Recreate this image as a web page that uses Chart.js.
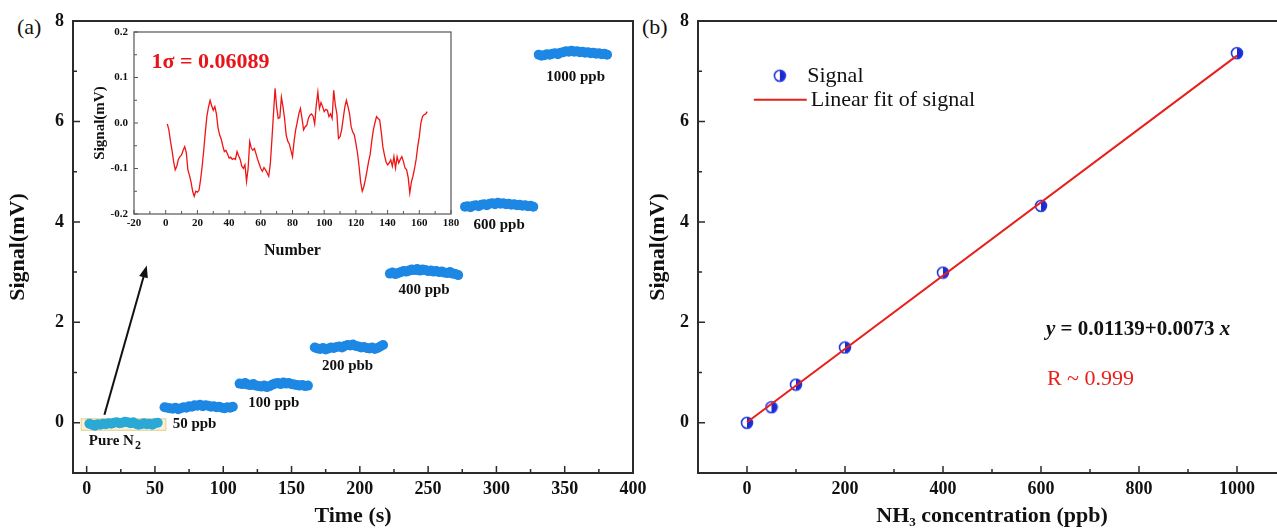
<!DOCTYPE html>
<html>
<head>
<meta charset="utf-8">
<script src="https://cdn.jsdelivr.net/npm/chart.js@4.4.1/dist/chart.umd.min.js"></script>
<style>
html, body { margin: 0; padding: 0; background: #fff; overflow: hidden; width: 1277px; height: 530px; }
canvas { position: absolute; }
.tag { position: absolute; font: 22px 'Liberation Serif', serif; color: #111; line-height: 1.15; }
</style>
</head>
<body>
<div class="tag" style="left:17px;top:14px">(a)</div>
<div class="tag" style="left:642px;top:14px">(b)</div>
<canvas id="stepChart" width="650" height="530" style="left:0;top:0"></canvas>
<canvas id="noiseChart" width="370" height="245" style="left:90px;top:20px"></canvas>
<canvas id="fitChart" width="660" height="530" style="left:640px;top:0"></canvas>
<script>
// ---- panel (a): step response ----
const timeTicks = [0, 50, 100, 150, 200, 250, 300, 350, 400];
const timeMinor = [25, 75, 125, 175, 225, 275, 325, 375];
const signalTicks = [0, 2, 4, 6, 8];
const signalMinor = [1, 3, 5, 7];

// each plateau: start time (s), samples every 2 s
const stepStarts = [2, 57, 112, 167, 222, 277, 331];
const stepOffsets = [0, 2, 4, 6, 8, 10, 12, 14, 16, 18, 20, 22, 24, 26, 28, 30, 32, 34, 36, 38, 40, 42, 44, 46, 48, 50];
const stepNames = ['Pure N', '50 ppb', '100 ppb', '200 pbb', '400 ppb', '600 ppb', '1000 ppb'];

const pureN2 = [-0.02, -0.04, -0.06, -0.03, -0.04, -0.02, -0.03, -0.01, -0.02, 0.00, 0.01, -0.01, 0.00, 0.02, 0.01, -0.01, 0.01, -0.02, -0.04, -0.03, -0.01, -0.03, -0.02, -0.04, -0.01, 0.00];
const ppb50 = [0.31, 0.30, 0.29, 0.28, 0.30, 0.27, 0.29, 0.31, 0.30, 0.33, 0.32, 0.35, 0.34, 0.36, 0.33, 0.35, 0.34, 0.32, 0.33, 0.31, 0.32, 0.30, 0.29, 0.31, 0.30, 0.32];
const ppb100 = [0.78, 0.77, 0.79, 0.76, 0.75, 0.77, 0.74, 0.73, 0.72, 0.74, 0.71, 0.73, 0.76, 0.78, 0.79, 0.77, 0.80, 0.78, 0.79, 0.77, 0.76, 0.75, 0.74, 0.75, 0.73, 0.74];
const ppb200 = [1.50, 1.48, 1.47, 1.49, 1.46, 1.48, 1.50, 1.49, 1.51, 1.52, 1.50, 1.53, 1.55, 1.54, 1.56, 1.53, 1.52, 1.50, 1.51, 1.49, 1.48, 1.50, 1.47, 1.49, 1.52, 1.55];
const ppb400 = [2.97, 2.99, 2.96, 2.98, 3.00, 3.02, 3.01, 3.03, 3.05, 3.04, 3.06, 3.03, 3.05, 3.04, 3.02, 3.03, 3.01, 3.02, 3.00, 3.01, 2.99, 2.98, 3.00, 2.97, 2.96, 2.94];
const ppb600 = [4.30, 4.31, 4.29, 4.32, 4.33, 4.31, 4.34, 4.35, 4.33, 4.36, 4.37, 4.35, 4.38, 4.36, 4.37, 4.35, 4.36, 4.34, 4.35, 4.33, 4.34, 4.32, 4.33, 4.31, 4.32, 4.30];
const ppb1000 = [7.33, 7.31, 7.32, 7.34, 7.33, 7.35, 7.36, 7.34, 7.37, 7.38, 7.40, 7.39, 7.41, 7.39, 7.40, 7.38, 7.39, 7.37, 7.38, 7.36, 7.37, 7.35, 7.36, 7.34, 7.35, 7.33];

// ---- inset: baseline noise ----
const numberTicks = [-20, 0, 20, 40, 60, 80, 100, 120, 140, 160, 180];
const numberMinor = [-10, 10, 30, 50, 70, 90, 110, 130, 150, 170];
const noiseTicks = [-0.2, -0.1, 0, 0.1, 0.2];
const noiseMinor = [-0.15, -0.05, 0.05, 0.15];
const noiseY = [
  -0.002, -0.015, -0.040, -0.060, -0.085, -0.103, -0.095, -0.080, -0.074, -0.070,
  -0.060, -0.052, -0.065, -0.103, -0.115, -0.130, -0.150, -0.161, -0.150, -0.152,
  -0.148, -0.125, -0.095, -0.060, -0.020, 0.015, 0.035, 0.050, 0.038, 0.028,
  0.036, 0.020, -0.010, -0.026, -0.035, -0.050, -0.063, -0.060, -0.068, -0.077,
  -0.075, -0.080, -0.078, -0.080, -0.063, -0.072, -0.080, -0.095, -0.100, -0.092,
  -0.128, -0.100, -0.041, -0.055, -0.060, -0.056, -0.068, -0.080, -0.090, -0.100,
  -0.106, -0.098, -0.103, -0.110, -0.117, -0.090, -0.037, 0.020, 0.076, 0.035,
  0.010, 0.012, 0.057, 0.036, 0.010, -0.026, -0.040, -0.046, -0.060, -0.074,
  -0.040, -0.015, 0.002, 0.020, 0.032, 0.010, -0.015, -0.008, -0.005, 0.010,
  0.017, 0.020, 0.015, -0.002, 0.040, 0.068, 0.032, 0.045, 0.036, 0.025,
  0.030, 0.028, 0.014, 0.020, 0.010, 0.072, 0.040, 0.020, -0.034, -0.030,
  -0.015, 0.010, 0.035, 0.050, 0.036, 0.020, -0.008, -0.020, -0.026, -0.045,
  -0.066, -0.095, -0.130, -0.150, -0.140, -0.124, -0.105, -0.085, -0.069, -0.040,
  -0.015, 0.000, 0.014, 0.010, 0.007, -0.020, -0.052, -0.070, -0.085, -0.092,
  -0.088, -0.081, -0.095, -0.074, -0.099, -0.074, -0.088, -0.080, -0.074, -0.085,
  -0.099, -0.103, -0.120, -0.154, -0.130, -0.117, -0.100, -0.080, -0.052, -0.030,
  0.000, 0.014, 0.018, 0.020, 0.025
];

// ---- panel (b): calibration ----
const concentration = [0, 50, 100, 200, 400, 600, 1000];
const signalMean = [0.00, 0.31, 0.76, 1.50, 2.99, 4.32, 7.36];
const fitX = [0, 1000];
const fitY = [0.011, 7.311];
const concTicks = [0, 200, 400, 600, 800, 1000];
const concMinor = [-100, 100, 300, 500, 700, 900];

const serif = "'Liberation Serif', 'Times New Roman', serif";
const ink = '#111';
Chart.defaults.font.family = serif;
Chart.defaults.color = ink;
Chart.defaults.animation = false;

// inward tick marks + full frame box
const frameTicks = {
  id: 'frameTicks',
  afterDatasetsDraw(chart, args, o) {
    const { ctx, chartArea: a, scales: { x, y } } = chart;
    ctx.save();
    ctx.strokeStyle = o.color;
    ctx.lineWidth = o.tickWidth;
    ctx.beginPath();
    x.ticks.forEach(t => { const p = x.getPixelForValue(t.value); ctx.moveTo(p, a.bottom); ctx.lineTo(p, a.bottom - o.major); });
    o.minorX.forEach(v => { const p = x.getPixelForValue(v); if (p > a.left && p < a.right) { ctx.moveTo(p, a.bottom); ctx.lineTo(p, a.bottom - o.minor); } });
    y.ticks.forEach(t => { const p = y.getPixelForValue(t.value); ctx.moveTo(a.left, p); ctx.lineTo(a.left + o.major, p); });
    o.minorY.forEach(v => { const p = y.getPixelForValue(v); ctx.moveTo(a.left, p); ctx.lineTo(a.left + o.minor, p); });
    ctx.stroke();
    ctx.lineWidth = o.width;
    ctx.strokeRect(a.left, a.top, a.right - a.left, a.bottom - a.top);
    ctx.restore();
  }
};

function axis(min, max, ticks, opts) {
  return Object.assign({
    type: 'linear', min: min, max: max,
    afterBuildTicks: s => { s.ticks = ticks.map(v => ({ value: v })); },
    grid: { display: false, drawTicks: false },
    border: { display: false }
  }, opts);
}

function text(ctx, str, x, y, font, color, align) {
  ctx.font = font;
  ctx.fillStyle = color || ink;
  ctx.textAlign = align || 'center';
  ctx.textBaseline = 'middle';
  ctx.fillText(str, x, y);
}

// ---------- panel (a) ----------
const stepSeries = [pureN2, ppb50, ppb100, ppb200, ppb400, ppb600, ppb1000];
const stepColors = ['#2aa9d6', '#1d87e4', '#1d87e4', '#1d87e4', '#1d87e4', '#1d87e4', '#1d87e4'];
const stepLabelPos = [[21, -0.40], [79, -0.02], [137, 0.40], [191, 1.12], [247, 2.65], [302, 3.94], [358, 6.89]];

const stepNotes = {
  id: 'stepNotes',
  beforeDatasetsDraw(chart) {
    const { ctx, scales: { x, y } } = chart;
    const x0 = x.getPixelForValue(-4), x1 = x.getPixelForValue(58);
    const y0 = y.getPixelForValue(0.08), y1 = y.getPixelForValue(-0.15);
    ctx.save();
    ctx.fillStyle = '#fbf1d2';
    ctx.strokeStyle = '#e2cf92';
    ctx.lineWidth = 1;
    ctx.fillRect(x0, y0, x1 - x0, y1 - y0);
    ctx.strokeRect(x0, y0, x1 - x0, y1 - y0);
    ctx.restore();
  },
  afterDraw(chart) {
    const { ctx, scales: { x, y } } = chart;
    ctx.save();
    const f = 'bold 15px ' + serif;
    stepNames.forEach((n, i) => {
      const px = x.getPixelForValue(stepLabelPos[i][0]);
      const py = y.getPixelForValue(stepLabelPos[i][1]);
      if (i === 0) {
        ctx.font = f;
        const w = ctx.measureText(n).width;
        text(ctx, n, px - 4, py - 2, f, ink, 'center');
        text(ctx, '2', px - 4 + w / 2 + 1, py + 3, 'bold 12px ' + serif, ink, 'left');
      } else {
        text(ctx, n, px, py, f, ink, 'center');
      }
    });
    // arrow toward the inset
    const ax = x.getPixelForValue(13), ay = y.getPixelForValue(0.16);
    const bx = x.getPixelForValue(44), by = y.getPixelForValue(3.13);
    const ang = Math.atan2(by - ay, bx - ax);
    ctx.strokeStyle = '#111';
    ctx.fillStyle = '#111';
    ctx.lineWidth = 2;
    ctx.beginPath();
    ctx.moveTo(ax, ay);
    ctx.lineTo(bx - 8 * Math.cos(ang), by - 8 * Math.sin(ang));
    ctx.stroke();
    ctx.beginPath();
    ctx.moveTo(bx, by);
    ctx.lineTo(bx - 12 * Math.cos(ang) + 4.5 * Math.sin(ang), by - 12 * Math.sin(ang) - 4.5 * Math.cos(ang));
    ctx.lineTo(bx - 12 * Math.cos(ang) - 4.5 * Math.sin(ang), by - 12 * Math.sin(ang) + 4.5 * Math.cos(ang));
    ctx.closePath();
    ctx.fill();
    ctx.restore();
  }
};

new Chart(document.getElementById('stepChart'), {
  type: 'scatter',
  data: {
    datasets: stepSeries.map((vals, k) => ({
      data: vals.map((v, i) => ({ x: stepStarts[k] + stepOffsets[i], y: v })),
      backgroundColor: stepColors[k],
      borderWidth: 0,
      pointRadius: 5
    }))
  },
  options: {
    responsive: false,
    layout: { padding: { top: 21, right: 17, left: 0, bottom: 0 } },
    plugins: {
      legend: { display: false }, tooltip: { enabled: false },
      frameTicks: { color: '#2b2b2b', width: 2, tickWidth: 1.5, major: 7, minor: 4, minorX: timeMinor, minorY: signalMinor }
    },
    scales: {
      x: axis(-10, 400, timeTicks, {
        ticks: { padding: 6, font: { size: 18, weight: 'bold' }, autoSkip: false, maxRotation: 0 },
        title: { display: true, text: 'Time (s)', font: { size: 22, weight: 'bold' }, padding: { top: 0, bottom: 0 } },
        afterFit: s => { s.height = 57; s.paddingLeft = 0; s.paddingRight = 0; }
      }),
      y: axis(-1, 8, signalTicks, {
        ticks: { padding: 9, font: { size: 18, weight: 'bold' } },
        title: { display: true, text: 'Signal(mV)', font: { size: 22, weight: 'bold' }, padding: { top: 5, bottom: 0 } },
        afterFit: s => { s.width = 73; s.paddingTop = 0; s.paddingBottom = 0; }
      })
    }
  },
  plugins: [frameTicks, stepNotes]
});

// ---------- inset ----------
const noiseNotes = {
  id: 'noiseNotes',
  beforeDraw(chart) {
    const { ctx, chartArea: a } = chart;
    ctx.save();
    ctx.fillStyle = '#fff';
    ctx.fillRect(a.left, a.top, a.right - a.left, a.bottom - a.top);
    ctx.restore();
  },
  afterDraw(chart) {
    const { ctx, scales: { x, y } } = chart;
    ctx.save();
    text(ctx, '1\u03c3 = 0.06089', x.getPixelForValue(-9), y.getPixelForValue(0.133), 'bold 22px ' + serif, '#e8141a', 'left');
    ctx.restore();
  }
};

new Chart(document.getElementById('noiseChart'), {
  type: 'line',
  data: {
    datasets: [{
      data: noiseY.map((v, i) => ({ x: i + 1, y: v })),
      borderColor: '#f01414',
      borderWidth: 1.3,
      pointRadius: 0,
      tension: 0
    }]
  },
  options: {
    responsive: false,
    layout: { padding: { top: 12, right: 9, left: 0, bottom: 0 } },
    plugins: {
      legend: { display: false }, tooltip: { enabled: false },
      frameTicks: { color: '#555', width: 1.2, tickWidth: 1, major: 4, minor: 3, minorX: numberMinor, minorY: noiseMinor }
    },
    scales: {
      x: axis(-20, 180, numberTicks, {
        ticks: { padding: 3, font: { size: 11, weight: 'bold' }, autoSkip: false, maxRotation: 0 },
        title: { display: true, text: 'Number', font: { size: 16, weight: 'bold' }, padding: { top: 0, bottom: 5 } },
        afterFit: s => { s.height = 51; s.paddingLeft = 0; s.paddingRight = 0; }
      }),
      y: axis(-0.2, 0.2, noiseTicks, {
        ticks: { padding: 6, font: { size: 11, weight: 'bold' }, callback: v => v.toFixed(1) },
        title: { display: true, text: 'Signal(mV)', font: { size: 15, weight: 'bold' }, padding: { top: 1, bottom: 0 } },
        afterFit: s => { s.width = 44; s.paddingTop = 0; s.paddingBottom = 0; }
      })
    }
  },
  plugins: [noiseNotes, frameTicks]
});

// ---------- panel (b) ----------
function halfDot() {
  const c = document.createElement('canvas');
  c.width = 14; c.height = 14;
  const g = c.getContext('2d');
  g.beginPath(); g.arc(7, 7, 5.5, 0, 2 * Math.PI); g.fillStyle = '#fff'; g.fill();
  g.beginPath(); g.arc(7, 7, 5.5, -Math.PI / 2, Math.PI / 2); g.closePath(); g.fillStyle = '#1a2bd2'; g.fill();
  g.beginPath(); g.arc(7, 7, 5.5, 0, 2 * Math.PI); g.lineWidth = 1.6; g.strokeStyle = '#2337dc'; g.stroke();
  return c;
}
const dot = halfDot();

const fitNotes = {
  id: 'fitNotes',
  afterDraw(chart) {
    const { ctx, scales: { x, y } } = chart;
    ctx.save();
    // legend
    const ly1 = y.getPixelForValue(6.91), ly2 = y.getPixelForValue(6.43);
    ctx.drawImage(dot, x.getPixelForValue(67) - 7, ly1 - 7);
    text(ctx, 'Signal', x.getPixelForValue(123), ly1, '22px ' + serif, ink, 'left');
    ctx.strokeStyle = '#e8201c';
    ctx.lineWidth = 2;
    ctx.beginPath();
    ctx.moveTo(x.getPixelForValue(14), ly2);
    ctx.lineTo(x.getPixelForValue(122), ly2);
    ctx.stroke();
    text(ctx, 'Linear fit of signal', x.getPixelForValue(130), ly2, '22px ' + serif, ink, 'left');
    // fit equation
    let px = x.getPixelForValue(610);
    const ey = y.getPixelForValue(1.85);
    const parts = [['y', 'italic bold 21px '], [' = 0.01139+0.0073 ', 'bold 21px '], ['x', 'italic bold 21px ']];
    parts.forEach(p => {
      ctx.font = p[1] + serif;
      text(ctx, p[0], px, ey, p[1] + serif, ink, 'left');
      px += ctx.measureText(p[0]).width;
    });
    text(ctx, 'R ~ 0.999', x.getPixelForValue(612), y.getPixelForValue(0.86), '22px ' + serif, '#e8201c', 'left');
    ctx.restore();
  }
};

new Chart(document.getElementById('fitChart'), {
  type: 'scatter',
  data: {
    datasets: [
      {
        type: 'line',
        data: fitX.map((v, i) => ({ x: v, y: fitY[i] })),
        borderColor: '#e8201c',
        borderWidth: 2,
        pointRadius: 0
      },
      {
        data: concentration.map((v, i) => ({ x: v, y: signalMean[i] })),
        pointStyle: dot,
        pointRadius: 7
      }
    ]
  },
  options: {
    responsive: false,
    layout: { padding: { top: 21, right: 14, left: 0, bottom: 0 } },
    plugins: {
      legend: { display: false }, tooltip: { enabled: false },
      frameTicks: { color: '#2b2b2b', width: 2, tickWidth: 1.5, major: 7, minor: 4, minorX: concMinor, minorY: signalMinor }
    },
    scales: {
      x: axis(-100, 1100, concTicks, {
        ticks: { padding: 6, font: { size: 18, weight: 'bold' }, autoSkip: false, maxRotation: 0, callback: v => String(v) },
        title: { display: true, text: 'NH\u2083 concentration (ppb)', font: { size: 22, weight: 'bold' }, padding: { top: 0, bottom: 0 } },
        afterFit: s => { s.height = 57; s.paddingLeft = 0; s.paddingRight = 0; }
      }),
      y: axis(-1, 8, signalTicks, {
        ticks: { padding: 9, font: { size: 18, weight: 'bold' } },
        title: { display: true, text: 'Signal(mV)', font: { size: 22, weight: 'bold' }, padding: { top: 5, bottom: 0 } },
        afterFit: s => { s.width = 58; s.paddingTop = 0; s.paddingBottom = 0; }
      })
    }
  },
  plugins: [frameTicks, fitNotes]
});
</script>
</body>
</html>
